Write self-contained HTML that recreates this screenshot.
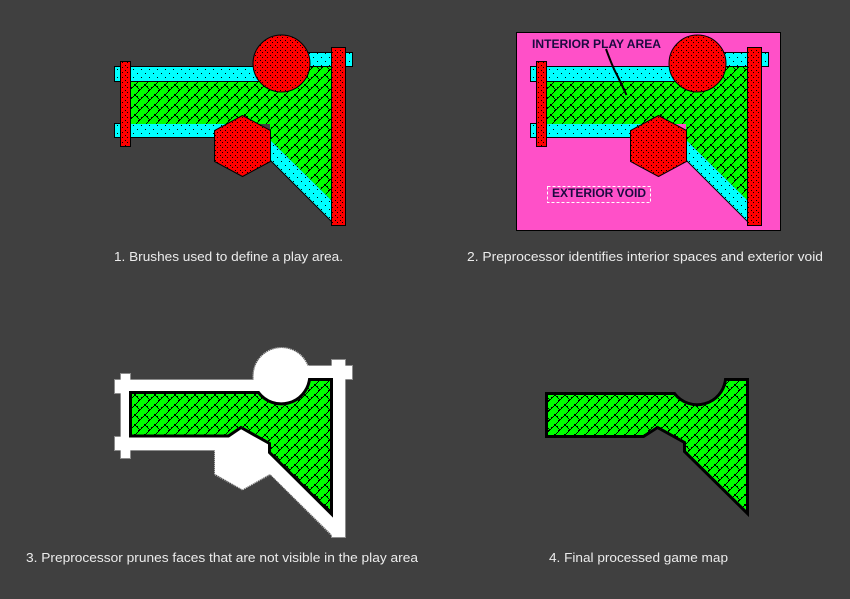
<!DOCTYPE html>
<html><head><meta charset="utf-8"><style>
html,body{margin:0;padding:0;background:#404040;width:850px;height:599px;overflow:hidden}
svg{display:block}
text{font-family:"Liberation Sans",Arial,sans-serif}
.cap{font-size:12.5px;fill:#ececec}
.lab{font-size:12px;font-weight:bold;fill:#1c0a40}
</style></head><body>
<svg width="850" height="599" viewBox="0 0 850 599" xmlns="http://www.w3.org/2000/svg">
<defs>
<pattern id="brick" patternUnits="userSpaceOnUse" width="10" height="10">
<rect width="10" height="10" fill="#00ff00"/>
<path fill="#000" d="M8 0h2v1h-2zM8 1h1v1h-1zM7 2h1v1h-1zM6 3h1v1h-1zM4 4h2v1h-2zM4 5h2v1h-2zM3 6h1v1h-1zM6 6h2v1h-2zM1 7h2v1h-2zM7 7h1v1h-1zM1 8h1v1h-1zM8 8h1v1h-1zM0 9h1v1h-1zM9 9h1v1h-1z"/>
</pattern>
<pattern id="cy" patternUnits="userSpaceOnUse" width="8" height="8">
<rect width="8" height="8" fill="#00ffff"/><path fill="#000" d="M1 1h1v1h-1zM5 5h1v1h-1z"/>
</pattern>
<pattern id="rd" patternUnits="userSpaceOnUse" width="5" height="5">
<rect width="5" height="5" fill="#ff0000"/><path fill="#000" d="M0 0h1v1h-1zM2 2h1v1h-1z"/>
</pattern>
<g id="brushes">
<polygon points="114.5,66.5 275,66.5 275,81.5 114.5,81.5" fill="url(#cy)" stroke="#000"/>
<polygon points="114.5,123.5 240,123.5 240,137.5 114.5,137.5" fill="url(#cy)" stroke="#000"/>
<polygon points="300,52.5 352.5,52.5 352.5,66.5 300,66.5" fill="url(#cy)" stroke="#000"/>
<polygon points="130,82 262,82 296,67 332,67 332,201 270,140 270,124 130,124" fill="url(#brick)"/>
<polygon points="270.5,140.5 331.5,200.5 331.5,221.5 270.5,160.5" fill="url(#cy)"/>
<line x1="270.5" y1="160.5" x2="331.5" y2="221.5" stroke="#000"/>
<rect x="120.5" y="61.5" width="10" height="85" fill="url(#rd)" stroke="#000"/>
<rect x="331.5" y="47.5" width="14" height="178" fill="url(#rd)" stroke="#000"/>
<circle cx="281.5" cy="63.5" r="28.5" fill="url(#rd)" stroke="#000"/>
<polygon points="242.5,115.5 270.5,130.5 270.5,161.5 242.5,176.5 214.5,161.5 214.5,130.5" fill="url(#rd)" stroke="#000"/>
</g>
</defs>

<use href="#brushes"/>
<text class="cap" x="114" y="261" textLength="229" lengthAdjust="spacingAndGlyphs">1. Brushes used to define a play area.</text>

<rect x="516.5" y="32.5" width="264" height="198" fill="#ff50c8" stroke="#000"/>
<use href="#brushes" x="416"/>
<text class="lab" x="532" y="48" textLength="129" lengthAdjust="spacingAndGlyphs">INTERIOR PLAY AREA</text>
<path d="M606 49 Q613 68 617 75 Q622 85 626.5 95" fill="none" stroke="#000" stroke-width="2"/>
<rect x="547.5" y="186.5" width="103" height="16" fill="none" stroke="#fff" stroke-dasharray="3 2"/>
<text class="lab" x="552" y="197" textLength="94" lengthAdjust="spacingAndGlyphs">EXTERIOR VOID</text>
<text class="cap" x="467" y="261" textLength="356" lengthAdjust="spacingAndGlyphs">2. Preprocessor identifies interior spaces and exterior void</text>

<g fill="none" stroke="#d8d8d8" stroke-dasharray="1 1">
<rect x="114.5" y="379.5" width="220" height="14"/>
<rect x="114.5" y="436.5" width="125" height="14"/>
<rect x="300.5" y="365.5" width="52" height="14"/>
<rect x="120.5" y="373.5" width="10" height="85"/>
<rect x="331.5" y="359.5" width="14" height="178"/>
<circle cx="281.5" cy="376" r="28.5"/>
<polygon points="242.5,427.5 270.5,442.5 270.5,474.5 242.5,490 214.5,474.5 214.5,442.5"/>
<line x1="270.5" y1="474.5" x2="331.5" y2="535.5"/>
</g>
<g fill="#fff">
<rect x="115" y="380" width="220" height="13"/>
<rect x="115" y="437" width="125" height="13"/>
<rect x="300" y="366" width="52" height="13"/>
<rect x="121" y="374" width="9" height="84"/>
<rect x="332" y="360" width="13" height="177"/>
<circle cx="281.5" cy="376" r="28"/>
<polygon points="242.5,428 270,443 270,474 242.5,489.5 215,474 215,443"/>
<polygon points="269,440 332,510 332,535 269,473"/>
</g>
<path d="M130.5 392.5 H258.5 A28.5 28.5 0 0 0 309.5 379.5 H331.5 V514 L269.5 452.5 V443.5 L241 427.5 L228.5 436 H130.5 Z" fill="url(#brick)" stroke="#000" stroke-width="3"/>
<text class="cap" x="26" y="562" textLength="392" lengthAdjust="spacingAndGlyphs">3. Preprocessor prunes faces that are not visible in the play area</text>

<path d="M546.5 393.5 H674.5 A28.5 28.5 0 0 0 725.5 379.5 H747.5 V513.5 L684.5 451.5 V442.5 L657.5 427.5 L643.5 436.5 H546.5 Z" fill="url(#brick)" stroke="#000" stroke-width="3"/>
<text class="cap" x="549" y="562" textLength="179" lengthAdjust="spacingAndGlyphs">4. Final processed game map</text>
</svg>
</body></html>
